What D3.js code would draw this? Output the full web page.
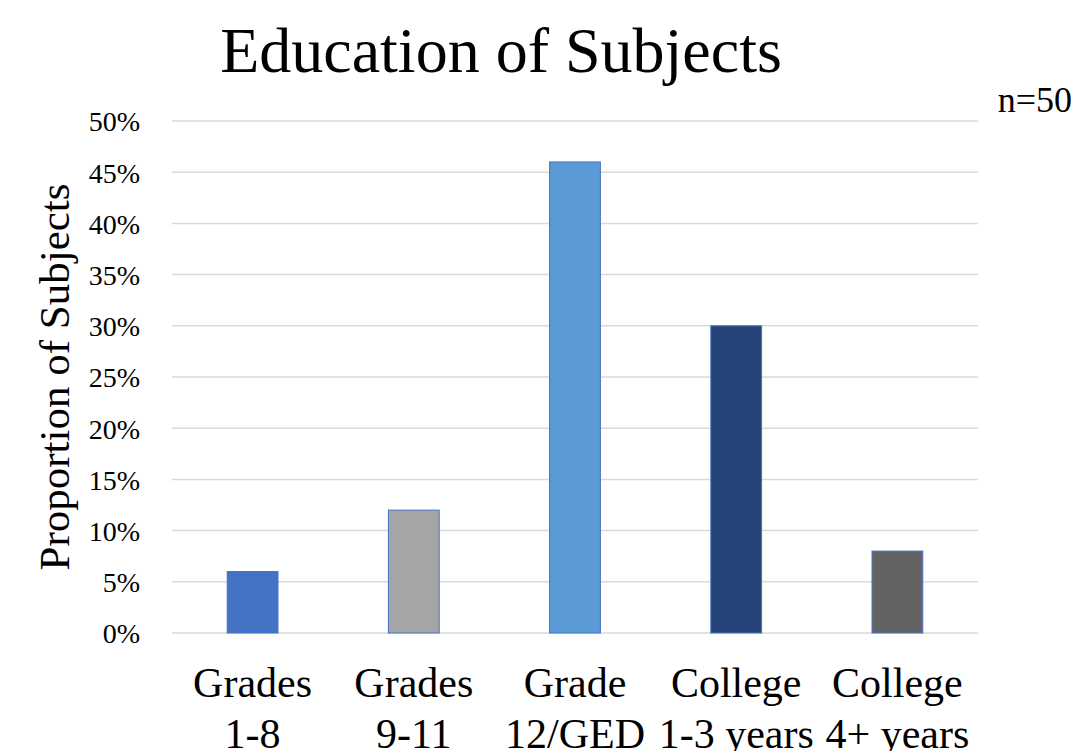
<!DOCTYPE html>
<html>
<head>
<meta charset="utf-8">
<script src="https://cdn.jsdelivr.net/npm/d3@7"></script>
<style>
  html, body { margin: 0; padding: 0; background: #fff; }
  svg { display: block; font-family: "Liberation Serif", "Times New Roman", serif; }
  svg text { font-family: "Liberation Serif", "Times New Roman", serif; }
</style>
</head>
<body>
<svg id="chart" width="1072" height="751"></svg>
<script>
// Education level categories (two-line labels)
const categories = [["Grades", "1-8"], ["Grades", "9-11"], ["Grade", "12/GED"], ["College", "1-3 years"], ["College", "4+ years"]];
// Share of subjects in each category (percent)
const values = [6, 12, 46, 30, 8];
const barColors = ["#4472C4", "#A5A5A5", "#5B9BD5", "#264478", "#636363"];
const yTicks = [0, 5, 10, 15, 20, 25, 30, 35, 40, 45, 50];

const svg = d3.select("#chart");
const margin = { left: 172, right: 94, top: 121, bottom: 118 };
const W = 1072, H = 751;

const x = d3.scaleBand()
  .domain(d3.range(categories.length))
  .range([margin.left, W - margin.right])
  .paddingInner(0.685)
  .paddingOuter(0.3425);

const y = d3.scaleLinear()
  .domain([0, 50])
  .range([H - margin.bottom, margin.top]);

// Horizontal gridlines
svg.append("g")
  .selectAll("line")
  .data(yTicks)
  .join("line")
  .attr("x1", margin.left)
  .attr("x2", W - margin.right)
  .attr("y1", d => y(d))
  .attr("y2", d => y(d))
  .attr("stroke", "#d9d9d9")
  .attr("stroke-width", 1.5);

// Y axis tick labels
const yAxis = d3.axisLeft(y).tickValues(yTicks).tickFormat(d => d + "%").tickSize(0).tickPadding(32);
const yg = svg.append("g").attr("transform", `translate(${margin.left},0)`).call(yAxis);
yg.attr("font-family", null).attr("font-size", null);
yg.select(".domain").remove();
yg.selectAll("text")
  .style("font-family", "'Liberation Serif', serif")
  .style("font-size", "28px")
  .attr("fill", "#000")
  .attr("dy", "0.35em");

// Bars
svg.append("g")
  .selectAll("rect")
  .data(values)
  .join("rect")
  .attr("x", (d, i) => x(i))
  .attr("width", x.bandwidth())
  .attr("y", d => y(d))
  .attr("height", d => y(0) - y(d))
  .attr("fill", (d, i) => barColors[i])
  .attr("stroke", "#4472C4")
  .attr("stroke-width", 1);

// Category labels
const xl = svg.append("g");
categories.forEach((c, i) => {
  const cx = x(i) + x.bandwidth() / 2;
  const t = xl.append("text")
    .attr("x", cx)
    .attr("text-anchor", "middle")
    .style("font-size", "42px")
    .attr("fill", "#000");
  t.append("tspan").attr("x", cx).attr("y", 697).text(c[0]);
  t.append("tspan").attr("x", cx).attr("y", 748).text(c[1]);
});

// Y axis title
svg.append("text")
  .attr("transform", `translate(69, ${(margin.top + H - margin.bottom) / 2}) rotate(-90)`)
  .attr("text-anchor", "middle")
  .style("font-size", "43px")
  .attr("fill", "#000")
  .text("Proportion of Subjects");

// Chart title
svg.append("text")
  .attr("x", 501)
  .attr("y", 72)
  .attr("text-anchor", "middle")
  .style("font-size", "64px")
  .attr("fill", "#000")
  .text("Education of Subjects");

// Sample size note
svg.append("text")
  .attr("x", 1072)
  .attr("y", 112)
  .attr("text-anchor", "end")
  .style("font-size", "36px")
  .attr("fill", "#000")
  .text("n=50");
</script>
</body>
</html>
